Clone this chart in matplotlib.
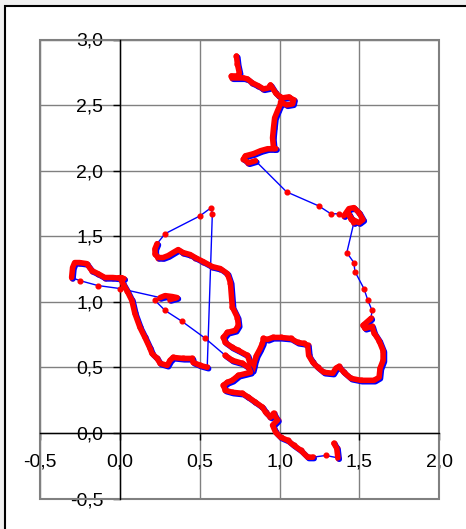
import numpy as np
import matplotlib
matplotlib.use('Agg')
import matplotlib.pyplot as plt
import matplotlib.patches as patches
import matplotlib.patheffects as pe
from matplotlib.ticker import FuncFormatter

# Traccia (x, y)
track_x = [0.730, 0.736, 0.748, 0.742, 0.698, 0.704, 0.774, 0.799, 0.830, 0.868,
           0.899, 0.931, 0.943, 0.975, 0.994, 1.019, 1.057, 1.088, 1.082, 1.044,
           1.006, 1.006, 0.987, 0.969, 0.962, 0.956, 0.962, 0.975, 0.925, 0.881,
           0.836, 0.786, 0.774, 0.805, 0.849, 1.044, 1.245, 1.321, 1.371, 1.403,
           1.434, 1.465, 1.497, 1.522, 1.497, 1.447, 1.428, 1.465, 1.421, 1.465,
           1.472, 1.528, 1.553, 1.579, 1.572, 1.522, 1.535, 1.579, 1.591, 1.623,
           1.648, 1.648, 1.629, 1.623, 1.591, 1.509, 1.447, 1.403, 1.371, 1.352,
           1.333, 1.277, 1.239, 1.208, 1.182, 1.176, 1.151, 1.113, 1.069, 1.006,
           0.956, 0.925, 0.899, 0.893, 0.875, 0.855, 0.843, 0.836, 0.830, 0.799,
           0.742, 0.704, 0.660, 0.648, 0.673, 0.723, 0.742, 0.736, 0.704, 0.692,
           0.673, 0.629, 0.579, 0.522, 0.472, 0.440, 0.396, 0.365, 0.333, 0.302,
           0.270, 0.239, 0.220, 0.220, 0.233, 0.283, 0.503, 0.572, 0.579, 0.547,
           0.503, 0.459, 0.453, 0.396, 0.333, 0.314, 0.296, 0.252, 0.233, 0.201,
           0.189, 0.157, 0.126, 0.094, 0.075, 0.044, 0.019, 0.000, 0.025, -0.044,
           -0.094, -0.138, -0.176, -0.208, -0.252, -0.283, -0.296, -0.302, -0.252, -0.138,
           0.000, 0.252, 0.283, 0.327, 0.358, 0.314, 0.220, 0.283, 0.390, 0.535,
           0.660, 0.704, 0.767, 0.805, 0.818, 0.742, 0.704, 0.673, 0.648, 0.660,
           0.704, 0.767, 0.805, 0.849, 0.893, 0.912, 0.943, 0.962, 0.987, 0.956,
           0.975, 1.006, 1.050, 1.088, 1.132, 1.176, 1.208, 1.290, 1.365, 1.358,
           1.340]
track_y = [2.874, 2.813, 2.745, 2.722, 2.722, 2.707, 2.707, 2.699, 2.669, 2.646,
           2.623, 2.631, 2.654, 2.593, 2.570, 2.555, 2.562, 2.540, 2.509, 2.501,
           2.524, 2.509, 2.456, 2.402, 2.326, 2.250, 2.174, 2.167, 2.167, 2.152,
           2.129, 2.113, 2.089, 2.059, 2.075, 1.838, 1.731, 1.671, 1.671, 1.656,
           1.710, 1.718, 1.680, 1.626, 1.603, 1.634, 1.679, 1.603, 1.375, 1.299,
           1.230, 1.101, 1.010, 0.934, 0.873, 0.820, 0.797, 0.812, 0.764, 0.703,
           0.627, 0.553, 0.493, 0.424, 0.401, 0.401, 0.416, 0.462, 0.507, 0.493,
           0.455, 0.462, 0.500, 0.538, 0.591, 0.667, 0.683, 0.690, 0.721, 0.728,
           0.728, 0.713, 0.721, 0.683, 0.635, 0.590, 0.545, 0.505, 0.477, 0.591,
           0.629, 0.652, 0.690, 0.728, 0.766, 0.782, 0.820, 0.880, 0.960, 1.147,
           1.215, 1.253, 1.268, 1.306, 1.337, 1.360, 1.375, 1.398, 1.375, 1.352,
           1.337, 1.337, 1.367, 1.405, 1.443, 1.519, 1.656, 1.718, 1.671, 0.500,
           0.515, 0.538, 0.568, 0.568, 0.576, 0.553, 0.515, 0.531, 0.568, 0.606,
           0.644, 0.728, 0.804, 0.911, 1.010, 1.086, 1.139, 1.185, 1.177, 1.185,
           1.185, 1.215, 1.238, 1.291, 1.299, 1.299, 1.261, 1.185, 1.162, 1.124,
           1.101, 1.032, 1.047, 1.040, 1.032, 1.017, 1.010, 0.934, 0.850, 0.721,
           0.591, 0.553, 0.531, 0.500, 0.462, 0.439, 0.401, 0.386, 0.363, 0.325,
           0.310, 0.302, 0.272, 0.234, 0.196, 0.158, 0.120, 0.150, 0.097, 0.059,
           0.005, -0.033, -0.056, -0.094, -0.132, -0.185, -0.185, -0.172, -0.190, -0.117,
           -0.079]

# Tratti con campionamento fitto (indici inizio, fine)
dense_runs = [(0, 34), (39, 47), (54, 114), (119, 147), (151, 155), (160, 186), (188, 190)]

ticks = np.arange(-0.5, 2.01, 0.5)
yticks = np.arange(-0.5, 3.01, 0.5)

plt.rcParams['font.family'] = ['Liberation Sans', 'DejaVu Sans']

fig = plt.figure(figsize=(4.66, 5.29), dpi=100, facecolor='#f0f0f0')
fig.patches.append(patches.Rectangle((5 / 466, -0.1), 1.2, (529 - 6) / 529 + 0.1,
                                     transform=fig.transFigure, facecolor='white',
                                     edgecolor='black', lw=1.5, zorder=-1))

ax = fig.add_axes([40 / 466, (529 - 498.5) / 529, (439.3 - 40) / 466, (498.5 - 39.5) / 529])
ax.set_facecolor('white')
ax.set_xlim(-0.5, 2.0)
ax.set_ylim(-0.5, 3.0)

tx = np.array(track_x)
ty = np.array(track_y)

# linea blu con marker rossi
ax.plot(tx, ty, color='#0000ff', lw=1.0, zorder=3)
ax.plot(tx, ty, ls='none', marker='o', ms=3.4, mfc='#ff0000', mec='#ff0000', zorder=4)
for a, b in dense_runs:
    ax.plot(tx[a:b + 1], ty[a:b + 1], color='#ff0000', lw=4.0, solid_capstyle='round',
            solid_joinstyle='round', zorder=5,
            path_effects=[pe.SimpleLineShadow(offset=(1.0, -1.0), shadow_color='#0000ff', alpha=1),
                          pe.Normal()])

# Assi stile Excel
fmt = FuncFormatter(lambda v, p: ('%.1f' % (0.0 if abs(v) < 1e-9 else v)).replace('.', ','))
ax.set_xticks(ticks)
ax.set_yticks(yticks)
ax.xaxis.set_major_formatter(fmt)
ax.yaxis.set_major_formatter(fmt)
ax.grid(True, color='#808080', lw=1.0)
ax.set_axisbelow(True)
for s in ['top', 'right']:
    ax.spines[s].set_visible(False)
ax.spines['left'].set_position(('data', 0))
ax.spines['bottom'].set_position(('data', 0))
for s in ['left', 'bottom']:
    ax.spines[s].set_color('black')
    ax.spines[s].set_linewidth(1.0)
    ax.spines[s].set_zorder(2.5)
ax.add_patch(patches.Rectangle((0, 0), 1, 1, transform=ax.transAxes, fill=False,
                               edgecolor='#808080', lw=1.5, zorder=2, clip_on=False))
ax.tick_params(axis='both', direction='out', length=5, width=1, color='black', labelsize=14)
ax.tick_params(axis='x', pad=10)
ax.tick_params(axis='y', pad=7)

fig.savefig('out.png', dpi=100, facecolor=fig.get_facecolor())
